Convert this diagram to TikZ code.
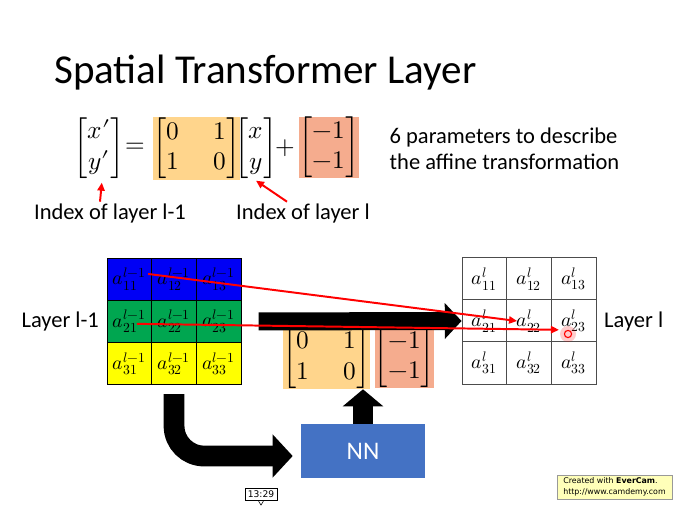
\documentclass[tikz,border=0pt]{standalone}
\usepackage{amsmath}
\usepackage{unicode-math}
\setmainfont{Carlito}
\setmathfont{Latin Modern Math}
\newfontfamily\uifont{DejaVu Sans}
\usetikzlibrary{arrows.meta,positioning}

\definecolor{gridblue}{RGB}{0,0,245}
\definecolor{gridgreen}{RGB}{0,166,80}
\definecolor{gridyellow}{RGB}{255,255,0}
\definecolor{boxorange}{RGB}{255,213,140}
\definecolor{boxsalmon}{RGB}{245,172,142}
\definecolor{nnblue}{RGB}{68,114,196}
\definecolor{notebg}{RGB}{255,255,185}

\tikzset{
  plaintext/.style={inner sep=1pt, font=\fontsize{16}{18.5}\selectfont},
  mtext/.style={inner sep=0pt, font=\fontsize{18}{21.6}\selectfont},
  abox/.style={mtext, fill=boxorange, minimum width=2.175cm, minimum height=1.55cm},
  bbox/.style={mtext, fill=boxsalmon, minimum width=1.45cm, minimum height=1.52cm},
  cellprev/.style={draw=black, line width=0.6pt, minimum width=1.117cm, minimum height=1.058cm,
    inner sep=0pt, font=\fontsize{14}{16}\selectfont},
  cellnext/.style={cellprev, draw=black!70, fill=white},
  nnbox/.style={fill=nnblue, text=white, minimum width=3.1cm, minimum height=1.35cm,
    font=\fontsize{18}{20}\selectfont},
  bigarrow/.style={line width=0.45cm, -{Triangle[length=0.42cm,width=0.875cm]}},
  redarrow/.style={red, line width=1.4pt, -{Triangle[length=0.2cm,width=0.18cm]}},
  notebox/.style={draw=black!40, fill=notebg, align=left, inner sep=2pt,
    minimum width=2.875cm, minimum height=0.6cm, font=\uifont\fontsize{5.6}{7.5}\selectfont},
  stampbox/.style={draw=black, fill=white, inner sep=2pt, font=\uifont\fontsize{6.5}{7.5}\selectfont},
}

\begin{document}
\begin{tikzpicture}[x=0.025cm,y=-0.025cm]
\useasboundingbox (0,0) rectangle (679,507);

% title
\node[anchor=west, inner sep=0pt, font=\fontsize{29.2}{35}\selectfont] (title) at (54,73) {Spatial Transformer Layer};

% the affine equation
\node[mtext] (xp) at (99,148) {$\begin{bmatrix} x\prime \\ y\prime \end{bmatrix}$};
\node[mtext] (eq) at (135,148) {$=$};
\node[abox] (A) at (196.5,148.5) {\setlength\arraycolsep{12pt}$\begin{bmatrix} 0 & 1 \\ 1 & 0 \end{bmatrix}$};
\node[mtext] (xy) at (256,148) {$\begin{bmatrix} x \\ y \end{bmatrix}$};
\node[mtext] (plus) at (285,148) {$+$};
\node[bbox] (b) at (329,147.5) {$\begin{bmatrix} -1 \\ -1 \end{bmatrix}$};
\node[plaintext, anchor=west, align=left] (param) at (388,149) {6 parameters to describe\\the affine transformation};

\node[plaintext] (idxprev) at (110,213) {Index of layer l-1};
\node[plaintext] (idxnext) at (303,213) {Index of layer l};
\draw[redarrow] ([xshift=-0.25cm]idxprev.north) -- ([xshift=0.07cm,yshift=-0.1cm]xp.south);
\draw[redarrow] ([xshift=-0.4cm]idxnext.north) -- ([yshift=-0.05cm]xy.south);

% layer l-1 and layer l
\foreach \r/\col in {1/gridblue,2/gridgreen,3/gridyellow}
  \foreach \c in {1,2,3}
    \node[cellprev, fill=\col] (p\r\c) at ({107+44.7*(\c-0.5)},{258+42.3*(\r-0.5)}) {$a_{\r\c}^{l-1}$};
\foreach \r in {1,2,3}
  \foreach \c in {1,2,3}
    \node[cellnext] (q\r\c) at ({462+44.7*(\c-0.5)},{258+42*(\r-0.5)}) {$a_{\r\c}^{l}$};
\node[plaintext, left=0.15cm of p21] (layerprev) {Layer l-1};
\node[plaintext, right=0.15cm of q23] (layernext) {Layer l};

% predicted parameters and the network
\node[abox] (A2) at (326.5,358) {\setlength\arraycolsep{12pt}$\begin{bmatrix} 0 & 1 \\ 1 & 0 \end{bmatrix}$};
\node[bbox] (b2) at (404.5,357.5) {$\begin{bmatrix} -1 \\ -1 \end{bmatrix}$};
\node[nnbox] (nn) at (363,451) {NN};

\draw[bigarrow] ([xshift=0.43cm]p23.east) -- (q21.west);
\draw[line width=0.475cm, -{Triangle[length=0.43cm,width=1cm]}] (nn.north) -- (nn.north |- A2.south);
\draw[line width=0.52cm, rounded corners=0.75cm, -{Triangle[length=0.5cm,width=1.05cm]}]
  ([yshift=-0.22cm]p32.south) |- ([xshift=-0.2cm,yshift=-0.125cm]nn.west);

% sampling lines
\draw[redarrow] ([xshift=0.47cm,yshift=0.13cm]p11.center) -- ([xshift=-0.3cm]q22.center);
\draw[redarrow] ([xshift=0.19cm,yshift=-0.06cm]p21.center) -- ([xshift=-0.37cm,yshift=-0.22cm]q23.center);
\fill[red, opacity=0.2] (568,334) circle (0.2cm);
\draw[red, line width=0.8pt] (568,334) circle (0.09cm);

% recorder marks
\node[stampbox] (stamp) at (261,494.5) {13:29};
\draw[fill=white] ([xshift=-0.06cm]stamp.south) -- ([yshift=-0.1cm]stamp.south) -- ([xshift=0.06cm]stamp.south);
\node[notebox] (evercam) at (614.5,487) {Created with \textbf{EverCam}.\\http://www.camdemy.com};
\end{tikzpicture}
\end{document}
